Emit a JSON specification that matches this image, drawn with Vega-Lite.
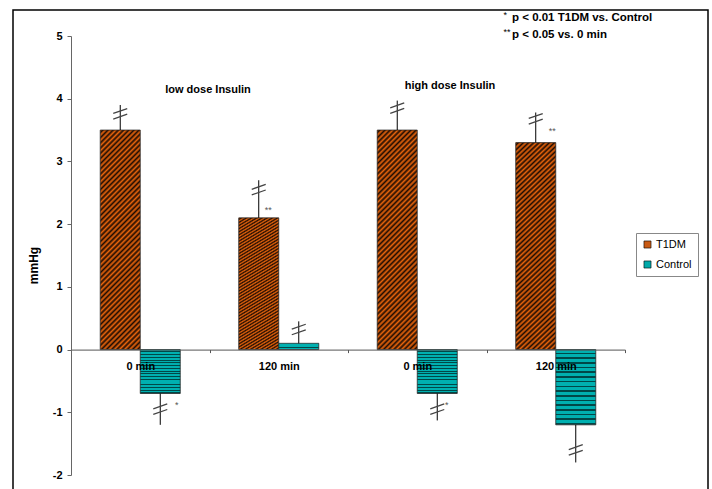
{
  "$schema": "https://vega.github.io/schema/vega-lite/v6.json",
  "width": 695,
  "height": 490,
  "autosize": "none",
  "padding": {"left": 13, "top": 10, "right": 4, "bottom": 0},
  "background": "white",
  "config": {"view": {"stroke": "#000", "strokeWidth": 1.5}, "font": "Liberation Sans"},
  "datasets": {
    "bars": [
      {"cond": "low0", "series": "T1DM", "value": 3.5, "err": 3.9, "brk": 3.76},
      {"cond": "low0", "series": "Control", "value": -0.7, "err": -1.2, "brk": -0.95},
      {"cond": "low120", "series": "T1DM", "value": 2.1, "err": 2.7, "brk": 2.55},
      {"cond": "low120", "series": "Control", "value": 0.1, "err": 0.45, "brk": 0.32},
      {"cond": "high0", "series": "T1DM", "value": 3.5, "err": 3.97, "brk": 3.85},
      {"cond": "high0", "series": "Control", "value": -0.7, "err": -1.13, "brk": -0.95},
      {"cond": "high120", "series": "T1DM", "value": 3.3, "err": 3.78, "brk": 3.68},
      {"cond": "high120", "series": "Control", "value": -1.2, "err": -1.8, "brk": -1.6}
    ],
    "stars": [
      {"cond": "low120", "series": "T1DM", "t": "**", "y": 2.22, "grp": "a"},
      {"cond": "high0", "series": "Control", "t": "*", "y": -0.89, "grp": "a"},
      {"cond": "high120", "series": "T1DM", "t": "**", "y": 3.48, "grp": "b"},
      {"cond": "low0", "series": "Control", "t": "*", "y": -0.88, "grp": "b"}
    ]
  },
  "data": {"name": "bars"},
  "encoding": {
    "x": {
      "field": "cond",
      "type": "nominal",
      "sort": ["low0", "low120", "high0", "high120"],
      "scale": {"range": [58, 612], "paddingInner": 0, "paddingOuter": 0},
      "axis": {
        "title": null,
        "orient": "bottom",
        "offset": -150.4,
        "domainColor": "#555",
        "tickColor": "#555",
        "tickSize": 3,
        "tickBand": "extent",
        "labelFont": "Liberation Sans",
        "labelFontWeight": "bold",
        "labelFontSize": 11,
        "labelColor": "#000",
        "labelPadding": 8,
        "labelAngle": 0,
        "labelExpr": "(datum.value == 'low0' || datum.value == 'high0') ? '0 min' : ((datum.value == 'low120' || datum.value == 'high120') ? '120 min' : '')",
        "zindex": 1
      }
    }
  },
  "layer": [
    {
      "transform": [{"filter": "datum.series == 'T1DM'"}],
      "mark": {
        "type": "bar",
        "stroke": "#222",
        "strokeWidth": 0.75,
        "color": {
          "gradient": "linear", "x1": 0, "y1": 0, "x2": 0.209, "y2": 1.144,
          "stops": [
            {"offset": 0, "color": "#E8640C"}, {"offset": 0.01, "color": "#1E0C02"}, {"offset": 0.02, "color": "#E8640C"}, {"offset": 0.03, "color": "#1E0C02"}, {"offset": 0.04, "color": "#E8640C"},
            {"offset": 0.05, "color": "#1E0C02"}, {"offset": 0.06, "color": "#E8640C"}, {"offset": 0.07, "color": "#1E0C02"}, {"offset": 0.08, "color": "#E8640C"}, {"offset": 0.09, "color": "#1E0C02"},
            {"offset": 0.1, "color": "#E8640C"}, {"offset": 0.11, "color": "#1E0C02"}, {"offset": 0.12, "color": "#E8640C"}, {"offset": 0.13, "color": "#1E0C02"}, {"offset": 0.14, "color": "#E8640C"},
            {"offset": 0.15, "color": "#1E0C02"}, {"offset": 0.16, "color": "#E8640C"}, {"offset": 0.17, "color": "#1E0C02"}, {"offset": 0.18, "color": "#E8640C"}, {"offset": 0.19, "color": "#1E0C02"},
            {"offset": 0.2, "color": "#E8640C"}, {"offset": 0.21, "color": "#1E0C02"}, {"offset": 0.22, "color": "#E8640C"}, {"offset": 0.23, "color": "#1E0C02"}, {"offset": 0.24, "color": "#E8640C"},
            {"offset": 0.25, "color": "#1E0C02"}, {"offset": 0.26, "color": "#E8640C"}, {"offset": 0.27, "color": "#1E0C02"}, {"offset": 0.28, "color": "#E8640C"}, {"offset": 0.29, "color": "#1E0C02"},
            {"offset": 0.3, "color": "#E8640C"}, {"offset": 0.31, "color": "#1E0C02"}, {"offset": 0.32, "color": "#E8640C"}, {"offset": 0.33, "color": "#1E0C02"}, {"offset": 0.34, "color": "#E8640C"},
            {"offset": 0.35, "color": "#1E0C02"}, {"offset": 0.36, "color": "#E8640C"}, {"offset": 0.37, "color": "#1E0C02"}, {"offset": 0.38, "color": "#E8640C"}, {"offset": 0.39, "color": "#1E0C02"},
            {"offset": 0.4, "color": "#E8640C"}, {"offset": 0.41, "color": "#1E0C02"}, {"offset": 0.42, "color": "#E8640C"}, {"offset": 0.43, "color": "#1E0C02"}, {"offset": 0.44, "color": "#E8640C"},
            {"offset": 0.45, "color": "#1E0C02"}, {"offset": 0.46, "color": "#E8640C"}, {"offset": 0.47, "color": "#1E0C02"}, {"offset": 0.48, "color": "#E8640C"}, {"offset": 0.49, "color": "#1E0C02"},
            {"offset": 0.5, "color": "#E8640C"}, {"offset": 0.51, "color": "#1E0C02"}, {"offset": 0.52, "color": "#E8640C"}, {"offset": 0.53, "color": "#1E0C02"}, {"offset": 0.54, "color": "#E8640C"},
            {"offset": 0.55, "color": "#1E0C02"}, {"offset": 0.56, "color": "#E8640C"}, {"offset": 0.57, "color": "#1E0C02"}, {"offset": 0.58, "color": "#E8640C"}, {"offset": 0.59, "color": "#1E0C02"},
            {"offset": 0.6, "color": "#E8640C"}, {"offset": 0.61, "color": "#1E0C02"}, {"offset": 0.62, "color": "#E8640C"}, {"offset": 0.63, "color": "#1E0C02"}, {"offset": 0.64, "color": "#E8640C"},
            {"offset": 0.65, "color": "#1E0C02"}, {"offset": 0.66, "color": "#E8640C"}, {"offset": 0.67, "color": "#1E0C02"}, {"offset": 0.68, "color": "#E8640C"}, {"offset": 0.69, "color": "#1E0C02"},
            {"offset": 0.7, "color": "#E8640C"}, {"offset": 0.71, "color": "#1E0C02"}, {"offset": 0.72, "color": "#E8640C"}, {"offset": 0.73, "color": "#1E0C02"}, {"offset": 0.74, "color": "#E8640C"},
            {"offset": 0.75, "color": "#1E0C02"}, {"offset": 0.76, "color": "#E8640C"}, {"offset": 0.77, "color": "#1E0C02"}, {"offset": 0.78, "color": "#E8640C"}, {"offset": 0.79, "color": "#1E0C02"},
            {"offset": 0.8, "color": "#E8640C"}, {"offset": 0.81, "color": "#1E0C02"}, {"offset": 0.82, "color": "#E8640C"}, {"offset": 0.83, "color": "#1E0C02"}, {"offset": 0.84, "color": "#E8640C"},
            {"offset": 0.85, "color": "#1E0C02"}, {"offset": 0.86, "color": "#E8640C"}, {"offset": 0.87, "color": "#1E0C02"}, {"offset": 0.88, "color": "#E8640C"}, {"offset": 0.89, "color": "#1E0C02"},
            {"offset": 0.9, "color": "#E8640C"}, {"offset": 0.91, "color": "#1E0C02"}, {"offset": 0.92, "color": "#E8640C"}, {"offset": 0.93, "color": "#1E0C02"}, {"offset": 0.94, "color": "#E8640C"},
            {"offset": 0.95, "color": "#1E0C02"}, {"offset": 0.96, "color": "#E8640C"}, {"offset": 0.97, "color": "#1E0C02"}, {"offset": 0.98, "color": "#E8640C"}, {"offset": 0.99, "color": "#1E0C02"},
            {"offset": 1, "color": "#E8640C"}
          ]
        }
      },
      "encoding": {
        "xOffset": {"field": "series", "type": "nominal", "sort": ["T1DM", "Control"], "scale": {"paddingInner": 0, "paddingOuter": 0.73}},
        "y": {
          "field": "value",
          "type": "quantitative",
          "scale": {"domain": [-2, 5], "range": [465, 26], "nice": false, "zero": false},
          "axis": {
            "title": "mmHg",
            "orient": "left",
            "offset": -58,
            "values": [-2, -1, 0, 1, 2, 3, 4, 5],
            "labelExpr": "'' + datum.value",
            "grid": false,
            "domainColor": "#666",
            "tickColor": "#666",
            "tickSize": 4,
            "labelFont": "Liberation Sans",
            "labelFontWeight": "bold",
            "labelFontSize": 11,
            "labelColor": "#000",
            "labelPadding": 5,
            "titleFont": "Liberation Sans",
            "titleFontWeight": "bold",
            "titleFontSize": 12,
            "titleColor": "#000",
            "titleAngle": -90,
            "titleX": -38,
            "titleY": 255,
            "titleAlign": "center",
            "titleBaseline": "middle",
            "zindex": 1
          }
        },
        "y2": {"datum": 0}
      }
    },
    {
      "transform": [{"filter": "datum.series == 'Control'"}],
      "mark": {
        "type": "bar",
        "stroke": "#222",
        "strokeWidth": 0.75,
        "color": {
          "gradient": "linear", "x1": 0, "y1": 0, "x2": 0, "y2": 1,
          "stops": [
            {"offset": 0, "color": "#00B0B0"}, {"offset": 0.04, "color": "#00B0B0"}, {"offset": 0.04, "color": "#004848"}, {"offset": 0.0625, "color": "#004848"},
            {"offset": 0.0625, "color": "#00B0B0"}, {"offset": 0.1025, "color": "#00B0B0"}, {"offset": 0.1025, "color": "#004848"}, {"offset": 0.125, "color": "#004848"},
            {"offset": 0.125, "color": "#00B0B0"}, {"offset": 0.165, "color": "#00B0B0"}, {"offset": 0.165, "color": "#004848"}, {"offset": 0.1875, "color": "#004848"},
            {"offset": 0.1875, "color": "#00B0B0"}, {"offset": 0.2275, "color": "#00B0B0"}, {"offset": 0.2275, "color": "#004848"}, {"offset": 0.25, "color": "#004848"},
            {"offset": 0.25, "color": "#00B0B0"}, {"offset": 0.29, "color": "#00B0B0"}, {"offset": 0.29, "color": "#004848"}, {"offset": 0.3125, "color": "#004848"},
            {"offset": 0.3125, "color": "#00B0B0"}, {"offset": 0.3525, "color": "#00B0B0"}, {"offset": 0.3525, "color": "#004848"}, {"offset": 0.375, "color": "#004848"},
            {"offset": 0.375, "color": "#00B0B0"}, {"offset": 0.415, "color": "#00B0B0"}, {"offset": 0.415, "color": "#004848"}, {"offset": 0.4375, "color": "#004848"},
            {"offset": 0.4375, "color": "#00B0B0"}, {"offset": 0.4775, "color": "#00B0B0"}, {"offset": 0.4775, "color": "#004848"}, {"offset": 0.5, "color": "#004848"},
            {"offset": 0.5, "color": "#00B0B0"}, {"offset": 0.54, "color": "#00B0B0"}, {"offset": 0.54, "color": "#004848"}, {"offset": 0.5625, "color": "#004848"},
            {"offset": 0.5625, "color": "#00B0B0"}, {"offset": 0.6025, "color": "#00B0B0"}, {"offset": 0.6025, "color": "#004848"}, {"offset": 0.625, "color": "#004848"},
            {"offset": 0.625, "color": "#00B0B0"}, {"offset": 0.665, "color": "#00B0B0"}, {"offset": 0.665, "color": "#004848"}, {"offset": 0.6875, "color": "#004848"},
            {"offset": 0.6875, "color": "#00B0B0"}, {"offset": 0.7275, "color": "#00B0B0"}, {"offset": 0.7275, "color": "#004848"}, {"offset": 0.75, "color": "#004848"},
            {"offset": 0.75, "color": "#00B0B0"}, {"offset": 0.79, "color": "#00B0B0"}, {"offset": 0.79, "color": "#004848"}, {"offset": 0.8125, "color": "#004848"},
            {"offset": 0.8125, "color": "#00B0B0"}, {"offset": 0.8525, "color": "#00B0B0"}, {"offset": 0.8525, "color": "#004848"}, {"offset": 0.875, "color": "#004848"},
            {"offset": 0.875, "color": "#00B0B0"}, {"offset": 0.915, "color": "#00B0B0"}, {"offset": 0.915, "color": "#004848"}, {"offset": 0.9375, "color": "#004848"},
            {"offset": 0.9375, "color": "#00B0B0"}, {"offset": 0.9775, "color": "#00B0B0"}, {"offset": 0.9775, "color": "#004848"}, {"offset": 1, "color": "#004848"}
          ]
        }
      },
      "encoding": {
        "xOffset": {"field": "series", "type": "nominal", "sort": ["T1DM", "Control"]},
        "y": {"field": "value", "type": "quantitative"},
        "y2": {"datum": 0}
      }
    },
    {
      "mark": {"type": "bar", "strokeWidth": 0},
      "encoding": {
        "xOffset": {"field": "series", "type": "nominal", "sort": ["T1DM", "Control"]},
        "y": {"datum": 0, "type": "quantitative"},
        "y2": {"datum": 0},
        "color": {
          "field": "series",
          "type": "nominal",
          "scale": {"domain": ["T1DM", "Control"], "range": ["#C85A14", "#00A8A8"]},
          "legend": {
            "orient": "none",
            "legendX": 623,
            "legendY": 223,
            "title": null,
            "direction": "vertical",
            "strokeColor": "#888",
            "fillColor": "#fff",
            "padding": 6,
            "rowPadding": 8,
            "symbolType": "square",
            "symbolSize": 50,
            "symbolStrokeColor": "#000",
            "symbolStrokeWidth": 0.6,
            "symbolOpacity": 1,
            "labelFont": "Liberation Sans",
            "labelFontSize": 11,
            "labelColor": "#000",
            "labelOffset": 3,
            "cornerRadius": 0
          }
        }
      }
    },
    {
      "mark": {"type": "rule", "color": "#000", "strokeWidth": 1},
      "encoding": {
        "xOffset": {"field": "series", "type": "nominal", "sort": ["T1DM", "Control"]},
        "y": {"field": "value", "type": "quantitative"},
        "y2": {"field": "err"}
      }
    },
    {
      "mark": {"type": "point", "shape": "M-1,-0.05L1,-0.75M-1,0.75L1,0.05", "size": 196, "filled": false, "color": "#444", "strokeWidth": 1.3, "opacity": 1},
      "encoding": {
        "xOffset": {"field": "series", "type": "nominal", "sort": ["T1DM", "Control"]},
        "y": {"field": "brk", "type": "quantitative"}
      }
    },
    {
      "data": {"name": "stars"},
      "transform": [{"filter": "datum.grp == 'a'"}],
      "mark": {"type": "text", "fontSize": 9, "color": "#555", "dx": 9.5, "baseline": "middle", "font": "Liberation Sans"},
      "encoding": {
        "xOffset": {"field": "series", "type": "nominal", "sort": ["T1DM", "Control"]},
        "y": {"field": "y", "type": "quantitative"},
        "text": {"field": "t"}
      }
    },
    {
      "data": {"name": "stars"},
      "transform": [{"filter": "datum.grp == 'b'"}],
      "mark": {"type": "text", "fontSize": 9, "color": "#555", "dx": 16.5, "baseline": "middle", "font": "Liberation Sans"},
      "encoding": {
        "xOffset": {"field": "series", "type": "nominal", "sort": ["T1DM", "Control"]},
        "y": {"field": "y", "type": "quantitative"},
        "text": {"field": "t"}
      }
    },
    {
      "data": {"values": [{"cond": "low0", "label": "low dose Insulin", "y": 4.14}]},
      "mark": {"type": "text", "fontSize": 11, "fontWeight": "bold", "color": "#000", "dx": -1.5, "baseline": "middle", "font": "Liberation Sans"},
      "encoding": {
        "x": {"field": "cond", "type": "nominal", "bandPosition": 1},
        "y": {"field": "y", "type": "quantitative"},
        "text": {"field": "label"}
      }
    },
    {
      "data": {"values": [{"cond": "high0", "label": "high dose Insulin", "y": 4.2}]},
      "mark": {"type": "text", "fontSize": 11, "fontWeight": "bold", "color": "#000", "dx": -36.5, "baseline": "middle", "font": "Liberation Sans"},
      "encoding": {
        "x": {"field": "cond", "type": "nominal", "bandPosition": 1},
        "y": {"field": "y", "type": "quantitative"},
        "text": {"field": "label"}
      }
    },
    {
      "data": {"values": [
        {"cond": "high120", "label": "p < 0.01 T1DM vs. Control", "y": 5.29},
        {"cond": "high120", "label": "p < 0.05 vs. 0 min", "y": 5.02}
      ]},
      "mark": {"type": "text", "fontSize": 11.5, "fontWeight": "bold", "color": "#000", "dx": 25.5, "align": "left", "baseline": "middle", "font": "Liberation Sans"},
      "encoding": {
        "x": {"field": "cond", "type": "nominal", "bandPosition": 0},
        "y": {"field": "y", "type": "quantitative"},
        "text": {"field": "label"}
      }
    },
    {
      "data": {"values": [
        {"cond": "high120", "label": "*", "y": 5.33},
        {"cond": "high120", "label": "**", "y": 5.06}
      ]},
      "mark": {"type": "text", "fontSize": 9, "color": "#000", "dx": 17, "align": "left", "baseline": "middle", "font": "Liberation Sans"},
      "encoding": {
        "x": {"field": "cond", "type": "nominal", "bandPosition": 0},
        "y": {"field": "y", "type": "quantitative"},
        "text": {"field": "label"}
      }
    }
  ]
}
